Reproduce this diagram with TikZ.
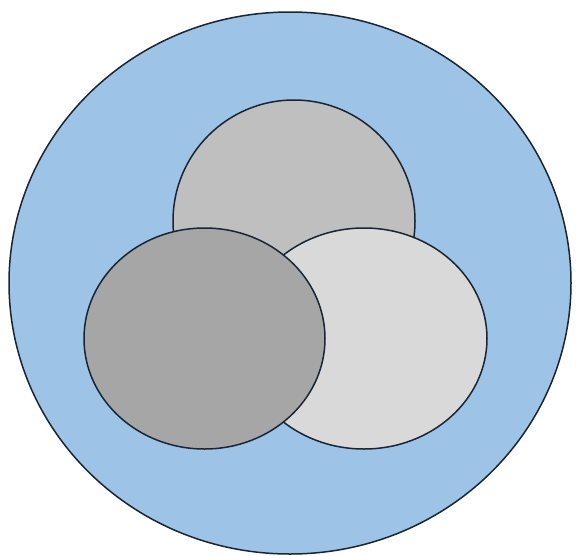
\documentclass[tikz,border=0pt]{standalone}
\begin{document}
\begin{tikzpicture}[x=1pt,y=-1pt]
\definecolor{bluefill}{HTML}{9DC3E6}
\definecolor{gtop}{HTML}{BFBFBF}
\definecolor{gdark}{HTML}{A6A6A6}
\definecolor{glight}{HTML}{D9D9D9}
\definecolor{edge}{HTML}{1A2533}
\tikzset{outline/.style={draw=edge, line width=1.5pt}}
\useasboundingbox (0,0) rectangle (576,555);
\fill[white] (0,0) rectangle (576,555);
\draw[outline, fill=bluefill] (290,283) ellipse [x radius=281, y radius=271];
\draw[outline, fill=gtop] (294,221) ellipse [x radius=121, y radius=121];
\draw[outline, fill=glight] (364,338.5) ellipse [x radius=123, y radius=110.5];
\draw[outline, fill=gdark] (204.5,338.5) ellipse [x radius=120.5, y radius=110.5];
\end{tikzpicture}
\end{document}
